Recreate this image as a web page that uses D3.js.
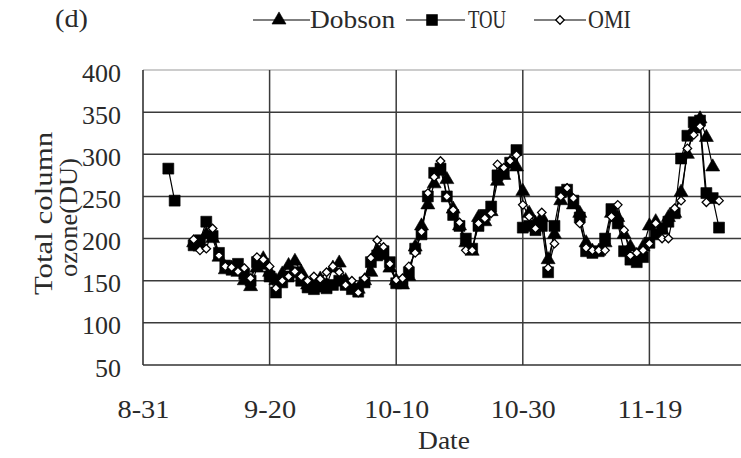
<!DOCTYPE html>
<html>
<head>
<meta charset="utf-8">
<script src="https://cdn.jsdelivr.net/npm/d3@7"></script>
<style>
  html, body { margin: 0; padding: 0; background: #fff; }
  svg { display: block; }
  text { font-family: "Liberation Serif", "DejaVu Serif", serif; fill: #2a2a2a; }
</style>
</head>
<body>
<svg id="chart" width="741" height="458"></svg>
<script>
// ---- data -------------------------------------------------------------
const tickLabels = ["8-31", "9-20", "10-10", "10-30", "11-19"];
const axisStart = "8-31";
const axisEnd = "12-9";
const yTicks = [50, 100, 150, 200, 250, 300, 350, 400];
const firstDay = "9-4";
const lastDay = "11-30";
const seriesNames = ["Dobson", "TOU", "OMI"];

// one value per day, 9-4 .. 11-30 (null = no observation)
const dobson = [
  null, null, null, null,
  195, 190, 205, 200, 178, 163, 165, 160, 150, 143,
  165, 176, 160, 150, 158, 168, 173, 160, 145, 148,
  152, 145, 165, 171, 150, 145, 140, 150, 160, 185,
  180, 165, 150, 145, 155, 190, 215, 240, 265, 280,
  270, 235, 215, 195, 185, 225, 220, 232, 268, 275,
  290, 285, 256, 230, 218, 225, 175, 205, 245, 256,
  240, 230, 195, 185, 185, 195, 230, 225, 205, 190,
  180, 190, 215, 220, 210, 225, 230, 255, 300, 330,
  342, 320, 285, null
];
const tou = [
  283, 245, null, null,
  192, 198, 220, 203, 183, 168, 163, 170, 158, 150,
  172, 170, 155, 136, 148, 155, 160, 150, 142, 140,
  143, 141, 145, 150, 145, 140, 137, 148, 172, 180,
  185, 172, 147, 148, 160, 188, 205, 250, 278, 283,
  250, 228, 215, 200, 188, 215, 228, 238, 275, 280,
  290, 305, 213, 215, 210, 215, 160, 215, 255, 258,
  245, 225, 185, 183, 185, 200, 235, 218, 185, 175,
  172, 178, 195, 205, 212, 220, 230, 295, 322, 338,
  340, 254, 248, 213
];
const omi = [
  null, null, null, null,
  199, 186, 188, 212, 180, 167, 166, 161, 165, 153,
  178, 175, 167, 141, 150, 155, 161, 155, 150, 155,
  152, 160, 167, 160, 145, 150, 136, 153, 177, 198,
  190, 170, 151, 153, 167, 183, 208, 254, 273, 292,
  250, 234, 219, 186, 186, 218, 224, 230, 288, 284,
  292, 299, 240, 226, 212, 231, 165, 194, 250, 260,
  248, 218, 189, 186, 186, 186, 226, 240, 210, 180,
  183, 186, 194, 218, 200, 200, 236, 245, 307, 323,
  333, 243, null, 245
];

// ---- setup ------------------------------------------------------------
const parseMD = d3.timeParse("%m-%d");
const days = d3.timeDay.range(parseMD(firstDay), d3.timeDay.offset(parseMD(lastDay), 1));

const plot = { left: 143, right: 776, top: 70, bottom: 365 };
const svg = d3.select("#chart");
const FONT = 26;

const x = d3.scaleTime()
  .domain([parseMD(axisStart), parseMD(axisEnd)])
  .range([plot.left, plot.right]);
const y = d3.scaleLinear()
  .domain([d3.min(yTicks), d3.max(yTicks)])
  .range([plot.bottom, plot.top]);

const tickDates = tickLabels.map(parseMD);

// give every label a fixed advance per character
function fit(sel, perChar) {
  sel.attr("textLength", function () { return this.textContent.length * perChar; })
     .attr("lengthAdjust", "spacingAndGlyphs");
}

// ---- grid -------------------------------------------------------------
const grid = svg.append("g");
grid.append("line")
  .attr("x1", plot.left).attr("x2", plot.right)
  .attr("y1", y(d3.max(yTicks))).attr("y2", y(d3.max(yTicks)))
  .attr("stroke", "#9a9a9a").attr("stroke-width", 1.2);
grid.selectAll("line.h")
  .data(yTicks.slice(1, -1))
  .join("line")
  .attr("class", "h")
  .attr("x1", plot.left).attr("x2", plot.right)
  .attr("y1", d => y(d)).attr("y2", d => y(d))
  .attr("stroke", "#3a3a3a").attr("stroke-width", 1.5);
grid.selectAll("line.v")
  .data(tickDates.slice(1).concat([parseMD(axisEnd)]))
  .join("line")
  .attr("class", "v")
  .attr("x1", d => x(d)).attr("x2", d => x(d))
  .attr("y1", plot.top).attr("y2", plot.bottom)
  .attr("stroke", "#3a3a3a").attr("stroke-width", 1.5);

// ---- axes -------------------------------------------------------------
const yAxis = svg.append("g")
  .attr("transform", `translate(${plot.left},0)`)
  .call(d3.axisLeft(y).tickValues(yTicks).tickSize(0).tickPadding(22));
yAxis.select(".domain").remove();
yAxis.selectAll("text")
  .attr("font-size", FONT).attr("font-family", null).attr("dy", 11).attr("fill", "#2a2a2a")
  .call(fit, 13);

const xAxis = svg.append("g")
  .attr("transform", `translate(0,${plot.bottom})`)
  .call(d3.axisBottom(x).tickValues(tickDates)
    .tickFormat((d, i) => tickLabels[i]).tickSize(0));
xAxis.select(".domain").remove();
xAxis.selectAll("text")
  .attr("font-size", FONT).attr("font-family", null).attr("y", 53).attr("dy", 0).attr("fill", "#2a2a2a")
  .call(fit, 13);

svg.append("line")
  .attr("x1", plot.left).attr("x2", plot.left)
  .attr("y1", plot.top).attr("y2", plot.bottom)
  .attr("stroke", "#333").attr("stroke-width", 1.6);
svg.append("line")
  .attr("x1", plot.left).attr("x2", plot.right)
  .attr("y1", plot.bottom).attr("y2", plot.bottom)
  .attr("stroke", "#333").attr("stroke-width", 1.6);

// axis titles
svg.append("text")
  .attr("x", 444).attr("y", 449)
  .attr("text-anchor", "middle").attr("font-size", FONT)
  .text("Date").call(fit, 13);

const yTitle = svg.append("g");
yTitle.append("text")
  .attr("transform", "translate(52,213.5) rotate(-90)")
  .attr("text-anchor", "middle").attr("font-size", FONT)
  .text("Total column").call(fit, 13.6);
yTitle.append("text")
  .attr("transform", "translate(77,217.5) rotate(-90)")
  .attr("text-anchor", "middle").attr("font-size", FONT)
  .text("ozone(DU)").call(fit, 13.2);

svg.append("text")
  .attr("x", 55).attr("y", 27).attr("font-size", FONT)
  .text("(d)").call(fit, 11);

// ---- series -----------------------------------------------------------
const symbols = {
  Dobson: { type: d3.symbolTriangle, size: 85, fill: "#000" },
  TOU:    { type: d3.symbolSquare,   size: 120, fill: "#000" },
  OMI:    { type: d3.symbolDiamond2, size: 46, fill: "#fff" }
};
const seriesValues = [dobson, tou, omi];

const line = d3.line()
  .defined(d => d.v != null)
  .x(d => x(d.date))
  .y(d => y(d.v));

seriesNames.forEach((name, k) => {
  const pts = days.map((date, i) => ({ date, v: seriesValues[k][i] }));
  const g = svg.append("g");
  g.append("path")
    .datum(pts)
    .attr("d", line)
    .attr("fill", "none")
    .attr("stroke", "#000")
    .attr("stroke-width", 1.2);
  const s = symbols[name];
  g.selectAll("path.m")
    .data(pts.filter(d => d.v != null))
    .join("path")
    .attr("class", "m")
    .attr("transform", d => `translate(${x(d.date)},${y(d.v)})`)
    .attr("d", d3.symbol(s.type, s.size))
    .attr("fill", s.fill)
    .attr("stroke", "#000")
    .attr("stroke-width", name === "OMI" ? 1.3 : 0.6);
});

// ---- legend -----------------------------------------------------------
const legendItems = [
  { name: "Dobson", x1: 253, x2: 310, mx: 279, tx: 310, per: 14.2 },
  { name: "TOU",    x1: 406, x2: 465, mx: 432, tx: 468, per: 12.7 },
  { name: "OMI",    x1: 534, x2: 586, mx: 560, tx: 588, per: 14.3 }
];
const legend = svg.append("g");
legendItems.forEach(it => {
  const s = symbols[it.name];
  legend.append("line")
    .attr("x1", it.x1).attr("x2", it.x2).attr("y1", 20).attr("y2", 20)
    .attr("stroke", "#000").attr("stroke-width", 1.2);
  legend.append("path")
    .attr("transform", `translate(${it.mx},20)`)
    .attr("d", d3.symbol(s.type, s.size))
    .attr("fill", s.fill).attr("stroke", "#000")
    .attr("stroke-width", it.name === "OMI" ? 1.3 : 0.6);
  legend.append("text")
    .attr("x", it.tx).attr("y", 28).attr("font-size", FONT)
    .text(it.name).call(fit, it.per);
});
</script>
</body>
</html>
